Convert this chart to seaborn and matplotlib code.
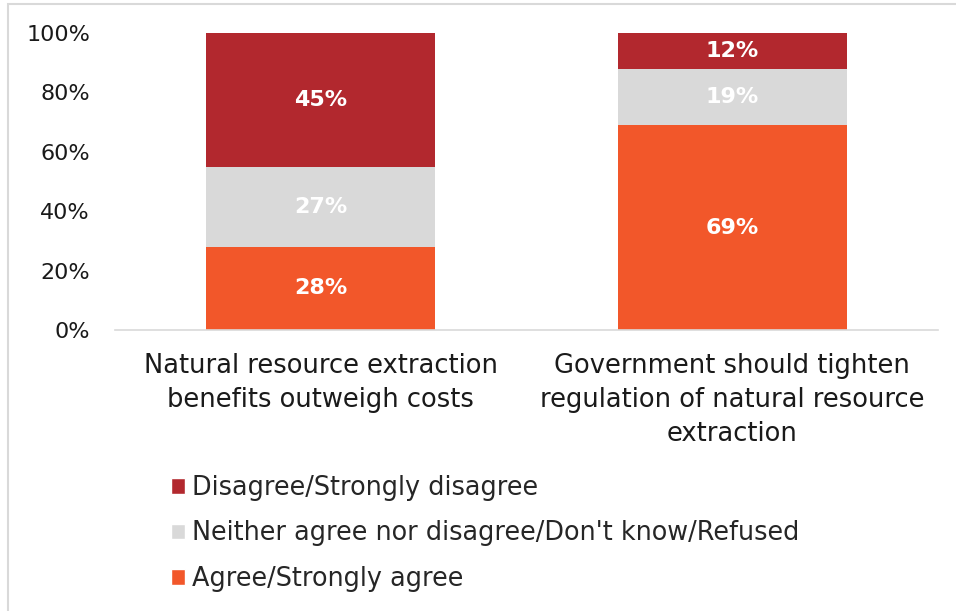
import matplotlib
matplotlib.use("Agg")
import matplotlib.pyplot as plt
import seaborn as sns
import numpy as np
from matplotlib.patches import Patch, Rectangle

categories = ["Natural resource extraction\nbenefits outweigh costs",
              "Government should tighten\nregulation of natural resource\nextraction"]
series_names = ["Agree/Strongly agree",
                "Neither agree nor disagree/Don't know/Refused",
                "Disagree/Strongly disagree"]
agree = [28, 69]
neither = [27, 19]
disagree = [45, 12]
colors = ["#F2572A", "#D9D9D9", "#B2282E"]
ytick_vals = [0, 20, 40, 60, 80, 100]
ytick_labels = ["0%", "20%", "40%", "60%", "80%", "100%"]

sns.set_theme(style="white")
plt.rcParams['font.family'] = ['DejaVu Sans']

fig = plt.figure(figsize=(9.56, 6.11), dpi=100)
ax = fig.add_axes([115/956, 1-330/611, (938-115)/956, (330-33)/611])

series = [agree, neither, disagree]
bottom = np.zeros(len(categories))
for vals, col in zip(series, colors):
    sns.barplot(x=categories, y=vals, bottom=bottom, color=col, width=0.556,
                ax=ax, saturation=1, edgecolor="none", linewidth=0)
    for i, v in enumerate(vals):
        ax.text(i, bottom[i] + v/2, f"{v}%", ha="center", va="center",
                color="white", fontsize=16, fontweight="bold")
    bottom = bottom + np.array(vals)

ax.set_xlim(-0.5, 1.5)
ax.set_ylim(0, 100)
ax.set_yticks(ytick_vals)
ax.set_yticklabels(ytick_labels, fontsize=16, color="#1a1a1a")
ax.tick_params(axis="y", length=0, pad=18)
ax.tick_params(axis="x", length=0, pad=16.5)
for lab in ax.get_xticklabels():
    lab.set_fontsize(18.5)
    lab.set_linespacing(1.39)
    lab.set_color("#1a1a1a")
for s in ["left", "right", "top"]:
    ax.spines[s].set_visible(False)
ax.spines["bottom"].set_color("#D9D9D9")
ax.spines["bottom"].set_linewidth(1.2)
ax.grid(False)

handles = [Patch(facecolor=colors[2]), Patch(facecolor=colors[1]), Patch(facecolor=colors[0])]
labels = [series_names[2], series_names[1], series_names[0]]
fig.legend(handles, labels, loc="upper left", bbox_to_anchor=(171/956, 1-475/611),
           frameon=False, fontsize=18.4, handlelength=0.55, handleheight=0.55,
           handletextpad=0.28, labelspacing=0.76, borderaxespad=0, borderpad=0)

fig.patches.append(Rectangle((8/956, -0.1), 1.2, 1 - 4/611 + 0.1, transform=fig.transFigure,
                             fill=False, edgecolor="#D9D9D9", linewidth=1.5, zorder=0))

fig.savefig("out.png", dpi=100)
